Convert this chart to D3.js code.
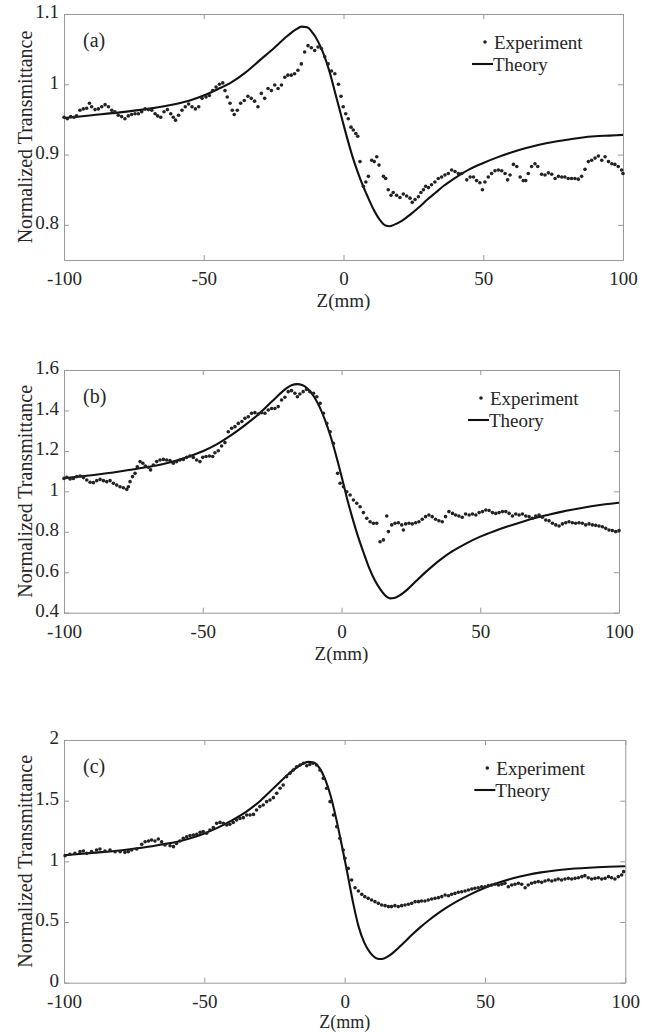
<!DOCTYPE html>
<html>
<head>
<meta charset="utf-8">
<script src="https://cdn.jsdelivr.net/npm/d3@7"></script>
<style>
  body { margin: 0; background: #fff; }
  svg text { font-family: "Liberation Serif", "Times New Roman", Times, "DejaVu Serif", serif !important; fill: #262626; }
</style>
</head>
<body>
<svg id="chart" width="652" height="1032" font-family="Liberation Serif, Times New Roman, serif"></svg>
<script>
// z positions of the x ticks (mm)
const zTicks = [-100, -50, 0, 50, 100];

// y ticks per panel
const yTicksA = [0.8, 0.9, 1, 1.1];
const yTicksB = [0.4, 0.6, 0.8, 1, 1.2, 1.4, 1.6];
const yTicksC = [0, 0.5, 1, 1.5, 2];

const panelLabels = ["(a)", "(b)", "(c)"];
const legendLabels = ["Experiment", "Theory"];

// theory curves, [z, T]
const theoryA = [[-100,0.952],[-90,0.956],[-80,0.960],[-70,0.965],[-60,0.972],[-55,0.977],[-50,0.984],[-45,0.993],[-40,1.003],[-35,1.017],[-30,1.034],[-25,1.051],[-20,1.069],[-17,1.078],[-15,1.082],[-13,1.081],[-11,1.073],[-9,1.060],[-7,1.042],[-5,1.018],[-3,0.988],[-1,0.958],[1,0.928],[3,0.900],[5,0.876],[7,0.855],[9,0.837],[11,0.820],[13,0.807],[15,0.799],[16.5,0.798],[18,0.800],[21,0.806],[24,0.815],[27,0.825],[30,0.836],[33,0.846],[36,0.856],[40,0.867],[45,0.879],[50,0.888],[55,0.896],[60,0.903],[65,0.909],[70,0.914],[75,0.918],[80,0.921],[85,0.924],[90,0.926],[95,0.927],[100,0.928]];

const theoryB = [[-100,1.065],[-90,1.080],[-80,1.098],[-70,1.120],[-65,1.133],[-60,1.150],[-55,1.172],[-50,1.198],[-45,1.232],[-40,1.275],[-35,1.325],[-30,1.380],[-25,1.445],[-21,1.497],[-18,1.525],[-16,1.530],[-14,1.525],[-12,1.505],[-10,1.470],[-8,1.420],[-6,1.355],[-4,1.275],[-2,1.180],[0,1.075],[2,0.965],[4,0.865],[6,0.775],[8,0.695],[10,0.620],[12,0.560],[14,0.515],[16,0.482],[17.5,0.471],[19,0.473],[21,0.486],[24,0.518],[27,0.558],[30,0.597],[33,0.633],[36,0.666],[40,0.704],[45,0.743],[50,0.776],[55,0.803],[60,0.827],[65,0.849],[70,0.869],[75,0.886],[80,0.901],[85,0.914],[90,0.926],[95,0.936],[100,0.944]];

const theoryC = [[-100,1.05],[-90,1.07],[-80,1.09],[-70,1.12],[-65,1.14],[-60,1.16],[-55,1.19],[-50,1.23],[-45,1.28],[-40,1.34],[-35,1.41],[-30,1.50],[-25,1.61],[-20,1.72],[-16,1.79],[-13,1.82],[-11,1.815],[-9,1.77],[-7,1.68],[-5,1.54],[-3,1.35],[-1,1.13],[1,0.90],[3,0.66],[5,0.46],[7,0.33],[9,0.25],[11,0.205],[12.5,0.195],[14,0.20],[16,0.225],[18,0.262],[21,0.327],[24,0.395],[27,0.458],[30,0.515],[33,0.567],[36,0.614],[40,0.670],[45,0.730],[50,0.782],[55,0.825],[60,0.860],[65,0.888],[70,0.909],[75,0.925],[80,0.937],[90,0.952],[100,0.96]];

// experiment points, [z, T]
const expA = [[-100,0.953],[-98.8,0.951],[-97.6,0.954],[-96.4,0.953],[-95.5,0.955],[-94.3,0.963],[-93.1,0.965],[-91.9,0.966],[-90.9,0.973],[-90.1,0.968],[-88.9,0.964],[-87.7,0.965],[-86.5,0.968],[-85.3,0.971],[-84.1,0.968],[-82.9,0.963],[-81.8,0.961],[-80.6,0.956],[-79.4,0.954],[-78.2,0.951],[-77,0.955],[-75.8,0.957],[-74.6,0.958],[-73.4,0.958],[-72.2,0.961],[-71,0.965],[-69.8,0.964],[-68.6,0.963],[-67.4,0.958],[-66.5,0.955],[-65.4,0.953],[-64.2,0.961],[-63,0.964],[-61.8,0.958],[-60.9,0.953],[-60.1,0.949],[-59,0.956],[-57.8,0.963],[-56.6,0.968],[-55.4,0.972],[-54.2,0.968],[-53,0.965],[-51.8,0.968],[-50.6,0.980],[-49.2,0.982],[-48,0.984],[-46.8,0.991],[-45.6,0.996],[-44.4,1.000],[-43.2,1.002],[-42.4,0.991],[-41.6,0.982],[-40.6,0.973],[-39.8,0.963],[-39.1,0.957],[-38,0.963],[-36.8,0.973],[-35.5,0.977],[-34.2,0.983],[-33,0.980],[-31.8,0.976],[-30.6,0.968],[-29.4,0.987],[-28.2,0.980],[-27,0.994],[-25.8,0.991],[-24.6,0.999],[-23.4,0.994],[-22.2,0.999],[-21,1.010],[-19.9,1.013],[-18.7,1.013],[-17.5,1.015],[-16.3,1.020],[-15.1,1.029],[-13.9,1.046],[-12.7,1.055],[-11.5,1.052],[-10.3,1.048],[-9.1,1.053],[-7.9,1.051],[-6.7,1.039],[-5.5,1.029],[-4.3,1.019],[-3.1,1.015],[-1.8,1.000],[-0.9,0.983],[-0.1,0.968],[0.8,0.958],[1.7,0.951],[2.7,0.939],[3.5,0.935],[4.4,0.930],[5.1,0.926],[5.9,0.890],[7.1,0.855],[8,0.861],[8.9,0.869],[10.1,0.892],[11,0.890],[11.9,0.897],[12.7,0.885],[14.3,0.869],[15.1,0.866],[16,0.850],[17,0.842],[17.8,0.846],[19,0.842],[20.2,0.839],[21.4,0.844],[22.6,0.841],[23.8,0.838],[24.6,0.832],[25.6,0.836],[26.8,0.840],[27.7,0.846],[28.6,0.850],[29.4,0.855],[30.4,0.853],[31.5,0.857],[32.7,0.861],[33.9,0.866],[35.1,0.868],[36.3,0.871],[37.5,0.873],[38.7,0.878],[39.9,0.876],[41.1,0.873],[42.3,0.873],[44.1,0.864],[45.3,0.868],[46.5,0.868],[47.6,0.863],[48.8,0.860],[49.7,0.850],[50.6,0.861],[51.8,0.868],[53,0.873],[54.2,0.877],[55.4,0.878],[56.6,0.877],[57.8,0.873],[58.7,0.864],[59.6,0.871],[60.8,0.886],[62,0.883],[63.2,0.868],[64.3,0.863],[65.2,0.863],[66.1,0.873],[67.3,0.883],[68.5,0.887],[69.5,0.883],[70.9,0.872],[72.1,0.871],[73.3,0.874],[74.5,0.872],[75.7,0.866],[76.9,0.869],[78.1,0.868],[79.2,0.868],[80.4,0.866],[81.6,0.866],[82.8,0.866],[84,0.865],[85.2,0.869],[86.4,0.879],[87.6,0.890],[88.8,0.892],[90,0.895],[91.2,0.898],[92.4,0.892],[93.6,0.897],[94.8,0.890],[96,0.887],[97.1,0.886],[98.3,0.883],[99.5,0.878],[100,0.873]];

const expB = [[-100,1.064],[-99,1.069],[-97.8,1.061],[-96.6,1.064],[-95.4,1.073],[-94.2,1.076],[-93,1.068],[-91.8,1.056],[-90.6,1.045],[-89.4,1.043],[-88.2,1.053],[-87,1.059],[-85.8,1.053],[-84.6,1.048],[-83.4,1.053],[-82.2,1.040],[-81,1.031],[-79.8,1.023],[-78.6,1.018],[-77.4,1.010],[-76.8,1.023],[-76.2,1.048],[-75.3,1.073],[-74.4,1.089],[-73.6,1.122],[-72.6,1.147],[-71.6,1.139],[-70.7,1.125],[-69.6,1.119],[-68.8,1.106],[-67.8,1.130],[-66.6,1.147],[-65.4,1.155],[-64.2,1.158],[-63,1.155],[-61.8,1.152],[-60.6,1.139],[-59.4,1.147],[-58.2,1.155],[-57,1.158],[-55.8,1.168],[-54.6,1.175],[-53.4,1.167],[-52.2,1.155],[-51,1.147],[-50,1.168],[-48.8,1.172],[-47.6,1.175],[-46.4,1.172],[-45.6,1.191],[-44.4,1.201],[-43.2,1.224],[-42,1.241],[-40.8,1.295],[-39.6,1.312],[-38.4,1.320],[-37.2,1.336],[-35.9,1.345],[-34.8,1.361],[-33.6,1.369],[-32.4,1.386],[-31.2,1.389],[-30,1.382],[-28.8,1.389],[-27.6,1.386],[-26.4,1.402],[-25.2,1.410],[-24,1.410],[-22.8,1.419],[-21.6,1.452],[-20.4,1.465],[-19.2,1.493],[-18,1.498],[-16.8,1.485],[-15.9,1.468],[-15,1.481],[-13.8,1.493],[-12.6,1.504],[-11.4,1.493],[-10.1,1.485],[-8.9,1.468],[-7.7,1.435],[-6.5,1.386],[-5.3,1.336],[-4.1,1.295],[-2.9,1.237],[-1.4,1.089],[-0.5,1.040],[0.7,1.023],[1.9,0.998],[3.1,0.982],[4.3,0.957],[5.5,0.941],[6.7,0.924],[7.9,0.895],[9.1,0.867],[10.3,0.850],[11.5,0.842],[12.7,0.842],[13.9,0.751],[15.1,0.760],[16.3,0.878],[16.9,0.801],[18.1,0.834],[19.3,0.842],[20.5,0.845],[21.7,0.834],[22.3,0.809],[23.1,0.839],[24.3,0.842],[25.5,0.839],[26.7,0.845],[27.9,0.850],[29.1,0.862],[30.3,0.875],[31.5,0.883],[32.7,0.875],[33.9,0.862],[35.1,0.855],[36.3,0.850],[37.5,0.875],[38.7,0.900],[40,0.891],[41.1,0.883],[42.3,0.878],[43.5,0.872],[44.7,0.888],[46,0.883],[47.2,0.888],[48.4,0.883],[49.6,0.895],[50.8,0.900],[52,0.908],[53.2,0.905],[54.4,0.895],[55.6,0.891],[56.8,0.895],[58,0.900],[59.2,0.900],[60.4,0.891],[61.6,0.878],[62.8,0.888],[64,0.883],[65.2,0.888],[66.4,0.878],[67.6,0.875],[68.8,0.867],[70,0.878],[71.2,0.883],[72.4,0.872],[73.6,0.858],[74.8,0.855],[76,0.842],[77.2,0.834],[78.4,0.829],[79.6,0.839],[80.8,0.845],[82,0.850],[83.2,0.845],[84.4,0.842],[85.6,0.845],[86.8,0.842],[88,0.834],[89.2,0.839],[90.4,0.834],[91.6,0.832],[92.8,0.829],[94,0.825],[95.2,0.817],[96.4,0.809],[97.6,0.806],[98.8,0.801],[100,0.806]];

const expC = [[-99.6,1.047],[-97.9,1.058],[-96.1,1.066],[-94.3,1.080],[-93.1,1.085],[-91.9,1.066],[-90.2,1.080],[-88.4,1.093],[-87.2,1.102],[-85.4,1.085],[-83.6,1.093],[-81.8,1.080],[-80,1.080],[-78.3,1.074],[-77.1,1.080],[-75.9,1.093],[-74.1,1.102],[-72.3,1.140],[-71.1,1.162],[-69.9,1.168],[-68.8,1.176],[-67.6,1.168],[-66.4,1.184],[-65.2,1.162],[-64,1.135],[-62.2,1.129],[-61,1.121],[-59.9,1.148],[-58.7,1.168],[-57.5,1.190],[-56.3,1.203],[-55.1,1.212],[-53.9,1.217],[-52.7,1.223],[-51.5,1.239],[-50.4,1.245],[-49.2,1.231],[-48,1.258],[-46.8,1.278],[-45.6,1.313],[-44.4,1.321],[-43.2,1.313],[-42,1.300],[-40.9,1.305],[-39.7,1.321],[-38.5,1.341],[-37.3,1.354],[-36.1,1.360],[-34.9,1.382],[-33.7,1.382],[-32.5,1.387],[-31.4,1.423],[-30.2,1.451],[-29,1.464],[-27.8,1.492],[-26.6,1.506],[-25.4,1.525],[-24.2,1.561],[-23,1.602],[-21.9,1.629],[-20.7,1.698],[-19.5,1.725],[-18.3,1.753],[-17.1,1.780],[-15.9,1.794],[-14.7,1.808],[-13.5,1.788],[-12.4,1.799],[-11.2,1.808],[-10,1.794],[-8.8,1.753],[-7.6,1.684],[-6.4,1.602],[-5.2,1.492],[-4,1.382],[-2.8,1.286],[-1.7,1.190],[-0.5,1.093],[0.1,1.025],[1.3,0.942],[2.5,0.846],[3.7,0.783],[4.9,0.756],[6.1,0.728],[7.2,0.709],[8.4,0.695],[9.6,0.682],[10.8,0.668],[12,0.654],[13.2,0.640],[14.4,0.635],[15.6,0.627],[16.7,0.627],[17.9,0.635],[19.1,0.627],[20.3,0.635],[21.5,0.640],[22.7,0.646],[23.9,0.654],[25.1,0.668],[26.3,0.668],[27.4,0.673],[28.6,0.673],[29.8,0.682],[31,0.690],[32.2,0.695],[33.4,0.701],[34.6,0.709],[35.8,0.723],[37,0.717],[38.1,0.728],[39.3,0.736],[40.5,0.745],[41.7,0.750],[42.9,0.756],[44.1,0.764],[45.3,0.772],[46.4,0.778],[47.6,0.783],[48.8,0.791],[50,0.791],[51.2,0.800],[52.4,0.805],[53.6,0.811],[54.8,0.805],[56,0.811],[57.1,0.819],[58.3,0.791],[59.5,0.805],[60.7,0.811],[61.9,0.819],[63.1,0.811],[64.3,0.783],[65.4,0.805],[66.6,0.819],[67.8,0.827],[69,0.833],[70.2,0.827],[71.4,0.838],[72.6,0.846],[73.8,0.838],[75,0.846],[76.1,0.854],[77.3,0.846],[78.5,0.854],[79.7,0.860],[80.9,0.854],[82.1,0.860],[83.3,0.865],[84.5,0.874],[85.6,0.882],[86.8,0.865],[88,0.854],[89.2,0.860],[90.4,0.865],[91.6,0.854],[92.8,0.860],[94,0.874],[95.1,0.865],[96.3,0.854],[97.5,0.874],[98.7,0.887],[99.4,0.915]];

const svg = d3.select("#chart");
const fmt = d3.format("~g");
const FONT = "Liberation Serif, Times New Roman, serif";

// panel boxes (pixels)
const panels = [
  { label: panelLabels[0], left: 64, right: 623, top: 14, bottom: 260, xTitleDy: 47, xTitleSize: 19, yDomain: [0.75, 1.1], yTicks: yTicksA, theory: theoryA, exp: expA },
  { label: panelLabels[1], left: 64, right: 619, top: 370, bottom: 612.7, xTitleDy: 47, xTitleSize: 19, yDomain: [0.4, 1.6], yTicks: yTicksB, theory: theoryB, exp: expB },
  { label: panelLabels[2], left: 64, right: 625.3, top: 740, bottom: 982.7, xTitleDy: 45.3, xTitleSize: 18, yDomain: [0, 2], yTicks: yTicksC, theory: theoryC, exp: expC }
];

panels.forEach(drawPanel);

function drawPanel(p) {
  const g = svg.append("g");
  const x = d3.scaleLinear().domain([-100, 100]).range([p.left, p.right]);
  const y = d3.scaleLinear().domain(p.yDomain).range([p.bottom, p.top]);

  // axes, ticks point inward like matlab
  const styleAxis = sel => {
    sel.attr("font-family", FONT).attr("font-size", 19);
    sel.select(".domain").attr("stroke", "#999");
    sel.selectAll(".tick line").attr("stroke", "#999");
    sel.selectAll(".tick text").attr("fill", "#262626");
  };

  g.append("g").attr("transform", `translate(0,${p.bottom})`)
    .call(d3.axisBottom(x).tickValues(zTicks).tickSize(-5).tickSizeOuter(0)
      .tickPadding(11.5).tickFormat(d => String(d)))
    .call(styleAxis);
  g.append("g").attr("transform", `translate(0,${p.top})`)
    .call(d3.axisTop(x).tickValues(zTicks).tickSize(-5).tickSizeOuter(0).tickFormat(""))
    .call(styleAxis);
  g.append("g").attr("transform", `translate(${p.left},0)`)
    .call(d3.axisLeft(y).tickValues(p.yTicks).tickSize(-5).tickSizeOuter(0)
      .tickPadding(5).tickFormat(fmt))
    .call(styleAxis)
    .call(a => a.selectAll(".tick text").attr("dy", "0.2em"));
  g.append("g").attr("transform", `translate(${p.right},0)`)
    .call(d3.axisRight(y).tickValues(p.yTicks).tickSize(-5).tickSizeOuter(0).tickFormat(""))
    .call(styleAxis);

  // theory line
  g.append("path")
    .datum(p.theory)
    .attr("fill", "none")
    .attr("stroke", "#111")
    .attr("stroke-width", 2.1)
    .attr("d", d3.line().x(d => x(d[0])).y(d => y(d[1])).curve(d3.curveMonotoneX));

  // experiment dots
  g.selectAll(".pt")
    .data(p.exp)
    .enter()
    .append("circle")
    .attr("class", "pt")
    .attr("cx", d => x(d[0]))
    .attr("cy", d => y(d[1]))
    .attr("r", 1.8)
    .attr("fill", "#222");

  const txt = size => g.append("text").attr("font-family", FONT).attr("font-size", size);

  // axis titles
  txt(p.xTitleSize).attr("x", (p.left + p.right) / 2)
    .attr("y", p.bottom + p.xTitleDy)
    .attr("text-anchor", "middle")
    .text("Z(mm)");

  txt(20).attr("transform", `translate(32,${(p.top + p.bottom) / 2}) rotate(-90)`)
    .attr("text-anchor", "middle")
    .text("Normalized Transmittance");

  // panel letter
  txt(20).attr("x", p.left + 19)
    .attr("y", p.top + 33)
    .text(p.label);

  // legend
  const lx = p.right - 138, ly = p.top + 28;
  g.append("circle").attr("cx", lx).attr("cy", ly).attr("r", 1.8).attr("fill", "#222");
  txt(19).attr("x", lx + 9).attr("y", ly + 6.5).text(legendLabels[0]);
  g.append("line")
    .attr("x1", lx - 13).attr("x2", lx + 8)
    .attr("y1", ly + 22).attr("y2", ly + 22)
    .attr("stroke", "#111").attr("stroke-width", 2.1);
  txt(19).attr("x", lx + 8).attr("y", ly + 28.5).text(legendLabels[1]);
}
</script>
</body>
</html>
